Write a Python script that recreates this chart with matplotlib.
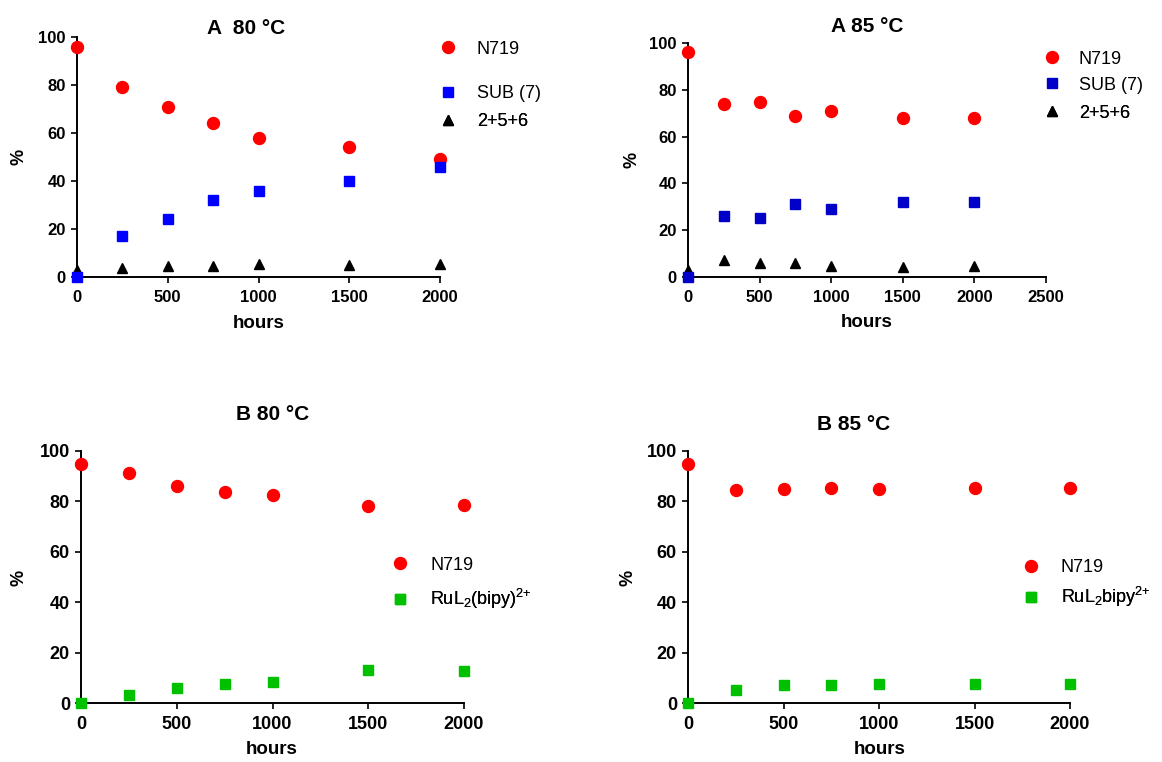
import matplotlib
matplotlib.use('Agg')
import matplotlib.pyplot as plt
from matplotlib.lines import Line2D

plt.rcParams['font.family'] = ['Liberation Sans', 'DejaVu Sans']
plt.rcParams['mathtext.default'] = 'regular'

# data
hours = [0, 250, 500, 750, 1000, 1500, 2000]

a80_n719 = [96, 79, 71, 64, 58, 54, 49.3]
a80_sub = [0, 17, 24, 32, 36, 40, 46]
a80_256 = [3, 3.8, 4.6, 4.6, 5.4, 4.8, 5.3]

a85_n719 = [96, 74, 75, 69, 71, 68, 68]
a85_sub = [0, 26, 25, 31, 29, 32, 32]
a85_256 = [3, 7.3, 6, 6, 4.8, 4.4, 4.9]

b80_n719 = [94.8, 91.4, 86, 83.8, 82.6, 78.3, 78.6]
b80_ru = [0, 3.2, 5.8, 7.4, 8.3, 13.2, 12.6]

b85_n719 = [94.8, 84.4, 84.8, 85.3, 85, 85.3, 85.3]
b85_ru = [0, 5.3, 7.2, 7, 7.4, 7.5, 7.4]

W, H = 1162, 762
fig = plt.figure(figsize=(W / 100, H / 100), dpi=100)


def px_axes(x0, x1, ytop, ybot):
    return fig.add_axes([x0 / W, 1 - ybot / H, (x1 - x0) / W, (ybot - ytop) / H])


def style(ax, xmax, xticks, tsize):
    ax.set_xlim(0, xmax)
    ax.set_ylim(0, 100)
    ax.set_xticks(xticks)
    ax.set_yticks([0, 20, 40, 60, 80, 100])
    for s in ['top', 'right']:
        ax.spines[s].set_visible(False)
    for s in ['left', 'bottom']:
        ax.spines[s].set_linewidth(1.4)
    ax.tick_params(direction='out', length=4.5, width=1.2, labelsize=tsize)
    ax.tick_params(axis='x', pad=5)
    ax.tick_params(axis='y', pad=3.5)
    for lab in ax.get_xticklabels() + ax.get_yticklabels():
        lab.set_fontweight('bold')


def ftext(x, y, s, **kw):
    fig.text(x / W, 1 - y / H, s, ha='center', va='center', **kw)


def legend_entry(ax, handle, label, mx, tx, y):
    fs = 13
    fpx = fs * 100 / 72
    left = mx - fpx / 2
    pad = (tx - left - fpx) / fpx
    leg = ax.legend(handles=[handle], labels=[label], loc='center left',
                    bbox_to_anchor=(left / W, 1 - y / H), bbox_transform=fig.transFigure,
                    frameon=False, handlelength=1, handletextpad=pad,
                    borderpad=0, borderaxespad=0, fontsize=fs)
    ax.add_artist(leg)


red = '#ff0000'
blue = '#0000ff'
dblue = '#0000c8'
green = '#00c000'
ms_c, ms_s, ms_t = 8.6, 7.3, 7.5

# ---------- A 80 ----------
ax = px_axes(77, 440, 37, 277)
ax.plot(hours, a80_n719, 'o', color=red, ms=ms_c, clip_on=False, zorder=3)
ax.plot(hours, a80_256, '^', color='black', ms=ms_t, clip_on=False, zorder=3)
ax.plot(hours, a80_sub, 's', color=blue, ms=ms_s, clip_on=False, zorder=4)
style(ax, 2000, [0, 500, 1000, 1500, 2000], 12)
ftext(246, 28, 'A  80 °C', fontsize=15, fontweight='bold')
ftext(19, 157, '%', fontsize=13, fontweight='bold', rotation=90)
ftext(259, 323, 'hours', fontsize=13.5, fontweight='bold')
legend_entry(ax, Line2D([], [], ls='', marker='o', color=red, ms=ms_c), 'N719', 448, 477, 49)
legend_entry(ax, Line2D([], [], ls='', marker='s', color=blue, ms=ms_s), 'SUB (7)', 448, 477, 94)
legend_entry(ax, Line2D([], [], ls='', marker='^', color='black', ms=ms_t), '2+5+6', 448, 477, 122)

# ---------- A 85 ----------
ax = px_axes(688, 1046, 43, 277)
ax.plot(hours, a85_n719, 'o', color=red, ms=ms_c, clip_on=False, zorder=3)
ax.plot(hours, a85_256, '^', color='black', ms=ms_t, clip_on=False, zorder=3)
ax.plot(hours, a85_sub, 's', color=dblue, ms=ms_s, clip_on=False, zorder=4)
style(ax, 2500, [0, 500, 1000, 1500, 2000, 2500], 12)
ftext(867, 27, 'A 85 °C', fontsize=15, fontweight='bold')
ftext(632, 160, '%', fontsize=13, fontweight='bold', rotation=90)
ftext(867, 322, 'hours', fontsize=13.5, fontweight='bold')
legend_entry(ax, Line2D([], [], ls='', marker='o', color=red, ms=ms_c), 'N719', 1052, 1079, 59)
legend_entry(ax, Line2D([], [], ls='', marker='s', color=dblue, ms=ms_s), 'SUB (7)', 1052, 1079, 85)
legend_entry(ax, Line2D([], [], ls='', marker='^', color='black', ms=ms_t), '2+5+6', 1052, 1079, 113)

# ---------- B 80 ----------
ax = px_axes(81, 464, 451, 703)
ax.plot(hours, b80_n719, 'o', color=red, ms=ms_c, clip_on=False, zorder=3)
ax.plot(hours, b80_ru, 's', color=green, ms=ms_s, clip_on=False, zorder=4)
style(ax, 2000, [0, 500, 1000, 1500, 2000], 13)
ftext(273, 414, 'B 80 °C', fontsize=15, fontweight='bold')
ftext(19, 578, '%', fontsize=13, fontweight='bold', rotation=90)
ftext(272, 750, 'hours', fontsize=13.5, fontweight='bold')
legend_entry(ax, Line2D([], [], ls='', marker='o', color=red, ms=ms_c), 'N719', 400, 430, 565)
legend_entry(ax, Line2D([], [], ls='', marker='s', color=green, ms=ms_s),
             r'RuL$_2$(bipy)$^{2{+}}$', 400, 430, 599)

# ---------- B 85 ----------
ax = px_axes(688, 1070, 451, 703)
ax.plot(hours, b85_n719, 'o', color=red, ms=ms_c, clip_on=False, zorder=3)
ax.plot(hours, b85_ru, 's', color=green, ms=ms_s, clip_on=False, zorder=4)
style(ax, 2000, [0, 500, 1000, 1500, 2000], 13)
ftext(854, 424, 'B 85 °C', fontsize=15, fontweight='bold')
ftext(628, 578, '%', fontsize=13, fontweight='bold', rotation=90)
ftext(880, 750, 'hours', fontsize=13.5, fontweight='bold')
legend_entry(ax, Line2D([], [], ls='', marker='o', color=red, ms=ms_c), 'N719', 1031, 1061, 568)
legend_entry(ax, Line2D([], [], ls='', marker='s', color=green, ms=ms_s),
             r'RuL$_2$bipy$^{2{+}}$', 1031, 1061, 597)

fig.savefig('out.png', dpi=100)
plt.close(fig)
